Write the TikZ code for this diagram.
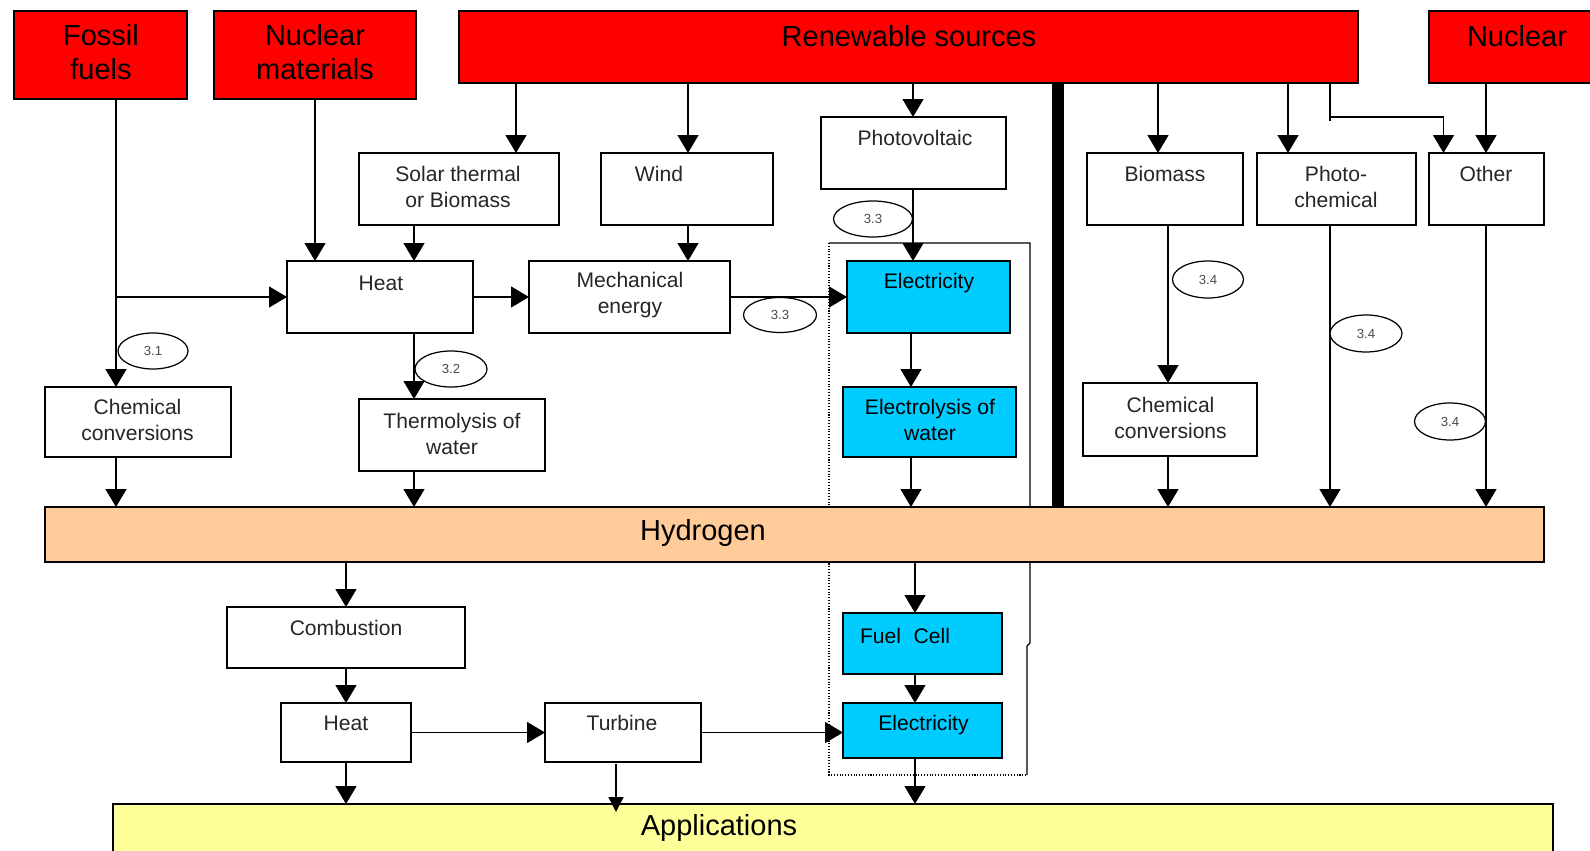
\documentclass[tikz,border=0pt]{standalone}
\usepackage{fontspec}
\setmainfont{Liberation Sans}
\usetikzlibrary{arrows.meta,shapes.geometric,calc}
\definecolor{srcred}{RGB}{255,0,0}
\definecolor{hcyan}{RGB}{0,204,255}
\definecolor{horange}{RGB}{255,204,153}
\definecolor{hyellow}{RGB}{255,255,153}
\newcommand\drawbox[6]{\node[#6, anchor=north west, minimum width={(#4-#2)*0.02cm}, minimum height={(#5-#3)*0.02cm}] (#1) at (#2,#3) {};}
\begin{document}
\begin{tikzpicture}[x=0.02cm,y=-0.02cm,
  bx/.style={draw, line width=0.7pt, fill=white, inner sep=0pt, outer sep=0pt},
  srcbox/.style={bx, fill=srcred},
  cybox/.style={bx, fill=hcyan},
  hbox/.style={bx, fill=horange},
  abox/.style={bx, fill=hyellow},
  arr/.style={line width=0.8pt, -{Triangle[width=0.42cm,length=0.36cm]}},
  sarr/.style={line width=0.8pt, -{Triangle[width=0.3cm,length=0.3cm]}},
  ln/.style={line width=0.8pt},
  big/.style={font=\fontsize{16.5}{19.4}\selectfont, align=center, inner sep=0pt},
  sm/.style={font=\fontsize{12}{14.8}\selectfont, align=center, inner sep=0pt, text=black!85},
  lbl/.style={ellipse, draw, line width=0.7pt, fill=white, inner sep=0pt, font=\fontsize{7.5}{8.5}\selectfont, text=black!70},
]
\clip (0,0) rectangle (1590,851);
\fill[white] (0,0) rectangle (1590,851);

% frame around electrical path
\draw[line width=0.7pt] (829,243) -- (1030,243) -- (1030,643) -- (1027,646) -- (1027,775);
\draw[line width=0.6pt, densely dotted] (829,243) -- (829,775) -- (1027,775);

% boxes
\drawbox{fossil}{14}{11}{187}{99}{srcbox}
\drawbox{nucmat}{214}{11}{416}{99}{srcbox}
\drawbox{ren}{459}{11}{1358}{83}{srcbox}
\drawbox{nuc}{1429}{11}{1600}{83}{srcbox}
\drawbox{solar}{359}{153}{559}{225}{bx}
\drawbox{wind}{601}{153}{773}{225}{bx}
\drawbox{pv}{821}{117}{1006}{189}{bx}
\drawbox{bio}{1087}{153}{1243}{225}{bx}
\drawbox{pchem}{1257}{153}{1416}{225}{bx}
\drawbox{other}{1429}{153}{1544}{225}{bx}
\drawbox{heat}{287}{261}{473}{333}{bx}
\drawbox{mech}{529}{261}{730}{333}{bx}
\drawbox{elecA}{847}{261}{1010}{333}{cybox}
\drawbox{chemL}{45}{387}{231}{457}{bx}
\drawbox{thermo}{359}{399}{545}{471}{bx}
\drawbox{elys}{843}{387}{1016}{457}{cybox}
\drawbox{chemR}{1083}{383}{1257}{456}{bx}
\drawbox{h2}{45}{507}{1544}{562}{hbox}
\drawbox{comb}{227}{607}{465}{668}{bx}
\drawbox{heatB}{281}{703}{411}{762}{bx}
\drawbox{turb}{545}{703}{701}{762}{bx}
\drawbox{fuel}{843}{613}{1002}{674}{cybox}
\drawbox{elecB}{843}{703}{1002}{758}{cybox}
\drawbox{app}{113}{804}{1553}{870}{abox}

% thick separator bar
\fill (1051.5,83) rectangle (1063.5,507);

% column coordinates
\coordinate (cF) at (116,0);
\coordinate (cS) at (516,0);
\coordinate (cH) at (414,0);
\coordinate (cW) at (688,0);
\coordinate (cP) at (913,0);
\coordinate (cE) at (911,0);
\coordinate (cB) at (1158,0);
\coordinate (cB2) at (1168,0);
\coordinate (cPC) at (1288,0);
\coordinate (cPC2) at (1330,0);
\coordinate (brA) at (1330,117);
\coordinate (brB) at (1443.5,117);
\coordinate (cO) at (1486,0);
\coordinate (cC) at (346,0);
\coordinate (cFC) at (915,0);
\coordinate (tA) at (616,764);
\coordinate (tB) at (616,812);

% connectors, upper part
\draw[arr] (fossil.south -| cF) -- (chemL.north -| cF);
\draw[arr] (cF |- heat.west) -- (heat.west);
\draw[arr] (chemL.south -| cF) -- (h2.north -| cF);
\draw[arr] (nucmat.south) -- (heat.north -| nucmat.south);
\draw[arr] (ren.south -| cS) -- (solar.north -| cS);
\draw[arr] (solar.south -| cH) -- (heat.north -| cH);
\draw[arr] (heat.south -| cH) -- (thermo.north -| cH);
\draw[arr] (thermo.south -| cH) -- (h2.north -| cH);
\draw[arr] (heat.east) -- (mech.west);
\draw[arr] (ren.south -| cW) -- (wind.north -| cW);
\draw[arr] (wind.south -| cW) -- (mech.north -| cW);
\draw[arr] (mech.east) -- (elecA.west);
\draw[arr] (ren.south -| cP) -- (pv.north -| cP);
\draw[arr] (pv.south -| cP) -- (elecA.north -| cP);
\draw[arr] (elecA.south -| cE) -- (elys.north -| cE);
\draw[arr] (elys.south -| cE) -- (h2.north -| cE);
\draw[arr] (ren.south -| cB) -- (bio.north -| cB);
\draw[arr] (bio.south -| cB2) -- (chemR.north -| cB2);
\draw[arr] (chemR.south -| cB2) -- (h2.north -| cB2);
\draw[arr] (ren.south -| cPC) -- (pchem.north -| cPC);
\draw[arr] (pchem.south -| cPC2) -- (h2.north -| cPC2);
\draw[arr] (ren.south -| brA) -- (brA) -- (brB) -- (other.north -| brB);
\draw[ln] (brA) -- ++(0,4);
\draw[arr] (nuc.south -| cO) -- (other.north -| cO);
\draw[arr] (other.south -| cO) -- (h2.north -| cO);

% connectors, lower part
\draw[arr] (h2.south -| cC) -- (comb.north -| cC);
\draw[arr] (comb.south -| cC) -- (heatB.north -| cC);
\draw[arr] (heatB.south -| cC) -- (app.north -| cC);
\draw[arr] (heatB.east) -- (turb.west);
\draw[arr] (turb.east) -- (elecB.west |- turb.east);
\draw[sarr] (tA) -- (tB);
\draw[arr] (h2.south -| cFC) -- (fuel.north -| cFC);
\draw[arr] (fuel.south -| cFC) -- (elecB.north -| cFC);
\draw[arr] (elecB.south -| cFC) -- (app.north -| cFC);

% section labels
\node[lbl, minimum width=1.4cm, minimum height=0.72cm] (e31) at (153,351) {3.1};
\node[lbl, minimum width=1.44cm, minimum height=0.72cm] (e32) at (451,369) {3.2};
\node[lbl, minimum width=1.58cm, minimum height=0.72cm] (e33a) at (873,219) {3.3};
\node[lbl, minimum width=1.46cm, minimum height=0.7cm] (e33b) at (780,315) {3.3};
\node[lbl, minimum width=1.42cm, minimum height=0.74cm] (e34a) at (1208,279.5) {3.4};
\node[lbl, minimum width=1.44cm, minimum height=0.74cm] (e34b) at (1366,333.5) {3.4};
\node[lbl, minimum width=1.42cm, minimum height=0.74cm] (e34c) at (1450,421.5) {3.4};

% texts
\node[big] (t-fossil) at (101,52) {Fossil\\fuels};
\node[big] (t-nucmat) at (315,52) {Nuclear\\materials};
\node[big] (t-ren) at (909,36) {Renewable sources};
\node[big] (t-nuc) at (1517,36) {Nuclear};
\node[sm] (t-solar) at (458,187) {Solar thermal\\or Biomass};
\node[sm] (t-wind) at (659,174) {Wind};
\node[sm] (t-pv) at (915,138) {Photovoltaic};
\node[sm] (t-bio) at (1165,174) {Biomass};
\node[sm] (t-pchem) at (1336,187) {Photo-\\chemical};
\node[sm] (t-other) at (1486,174) {Other};
\node[sm] (t-heat) at (381,283) {Heat};
\node[sm] (t-mech) at (630,295.5) {Mechanical\\energy};
\node[sm, text=black] (t-elecA) at (929,283) {Electricity};
\node[sm] (t-chemL) at (137.5,420) {Chemical\\conversions};
\node[sm] (t-thermo) at (452,433.5) {Thermolysis of\\water};
\node[sm, text=black] (t-elys) at (930,420) {Electrolysis of\\water};
\node[sm] (t-chemR) at (1170.5,417.5) {Chemical\\conversions};
\node[big] (t-h2) at (703,533) {Hydrogen};
\node[sm] (t-comb) at (346,628) {Combustion};
\node[sm] (t-heatB) at (346,723) {Heat};
\node[sm] (t-turb) at (622,723) {Turbine};
\node[sm, text=black] (t-fuel) at (905,636) {Fuel\hspace{0.6em}Cell};
\node[sm, text=black] (t-elecB) at (923.5,725) {Electricity};
\node[big] (t-app) at (719,828) {Applications};
\end{tikzpicture}
\end{document}
